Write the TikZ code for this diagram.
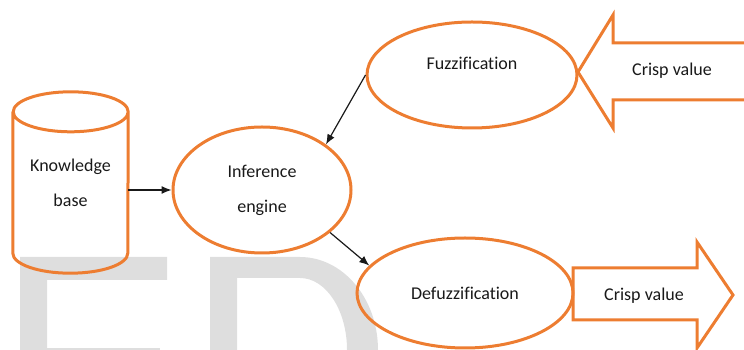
\documentclass[tikz,border=0pt]{standalone}
\usepackage{fontspec}
\setmainfont{Carlito}[Ligatures=NoCommon]
\usetikzlibrary{shapes.geometric, positioning, arrows.meta}
\definecolor{fzorange}{HTML}{ED7D31}
\definecolor{wmgray}{gray}{0.87}

\begin{document}
\begin{tikzpicture}[x=1pt, y=1pt, >={Latex[length=10pt, width=8pt]},
  blob/.style={ellipse, draw=fzorange, line width=3pt, inner sep=0},
  lbl/.style={font=\fontsize{18}{35}\selectfont, text=black!90, align=center},
  fatarrow/.style={draw=fzorange, line width=3pt, line join=miter},
  link/.style={->, line width=1.2pt, black!90}]
\useasboundingbox (0,0) rectangle (744,350);
\clip (0,0) rectangle (744,350);
% watermark letters
\fill[wmgray] (20,-5) -- (20,93) -- (167,93) -- (167,70) -- (47,70) -- (47,-5) -- cycle;
\fill[wmgray] (47,-5) rectangle (160,2);
\fill[wmgray] (210,-5) -- (210,93) -- (300,93) arc(90:0:78 and 93) -- (378,-5) -- (347,-5)
  -- (347,0) arc(0:90:47 and 72) -- (237,72) -- (237,-5) -- cycle;

% knowledge base drum
\node[minimum width=115, minimum height=181, inner sep=0, lbl] (kb) at (70.5,167.5) {Knowledge\\base};
\draw[fzorange, line width=3pt] ([yshift=-20]kb.north west) -- ([yshift=20]kb.south west)
  arc(180:360:57.5 and 20) -- ([yshift=-20]kb.north east) arc(0:180:57.5 and 20)
  arc(180:360:57.5 and 20);
\node[blob, minimum width=178, minimum height=126, lbl] (ie) at (262,160) {Inference\\engine};
\node[blob, minimum width=210, minimum height=106] (fz) at (472,275) {};
\node[lbl] (fztext) at ([yshift=12]fz.center) {Fuzzification};
\node[blob, minimum width=216, minimum height=110, lbl] (dz) at (465,57) {Defuzzification};

% crisp value arrows
\draw[fatarrow] (760,307) -- (613,307) -- (613,335) -- (578,278) -- (613,222) -- (613,250) -- (760,250);
\node[lbl] (crispin) at (672,279) {Crisp value};
\draw[fatarrow] (573,82) -- (697,82) -- (697,108) -- (733,55) -- (697,2) -- (697,30) -- (573,30) -- cycle;
\node[lbl] (crispout) at (644,54) {Crisp value};

\draw[link] (ie.west -| kb.east) -- (ie.west);
\draw[link] (fz.west) -- (ie.north east);
\draw[link] (ie.-32) -- (dz.164);
\end{tikzpicture}
\end{document}
